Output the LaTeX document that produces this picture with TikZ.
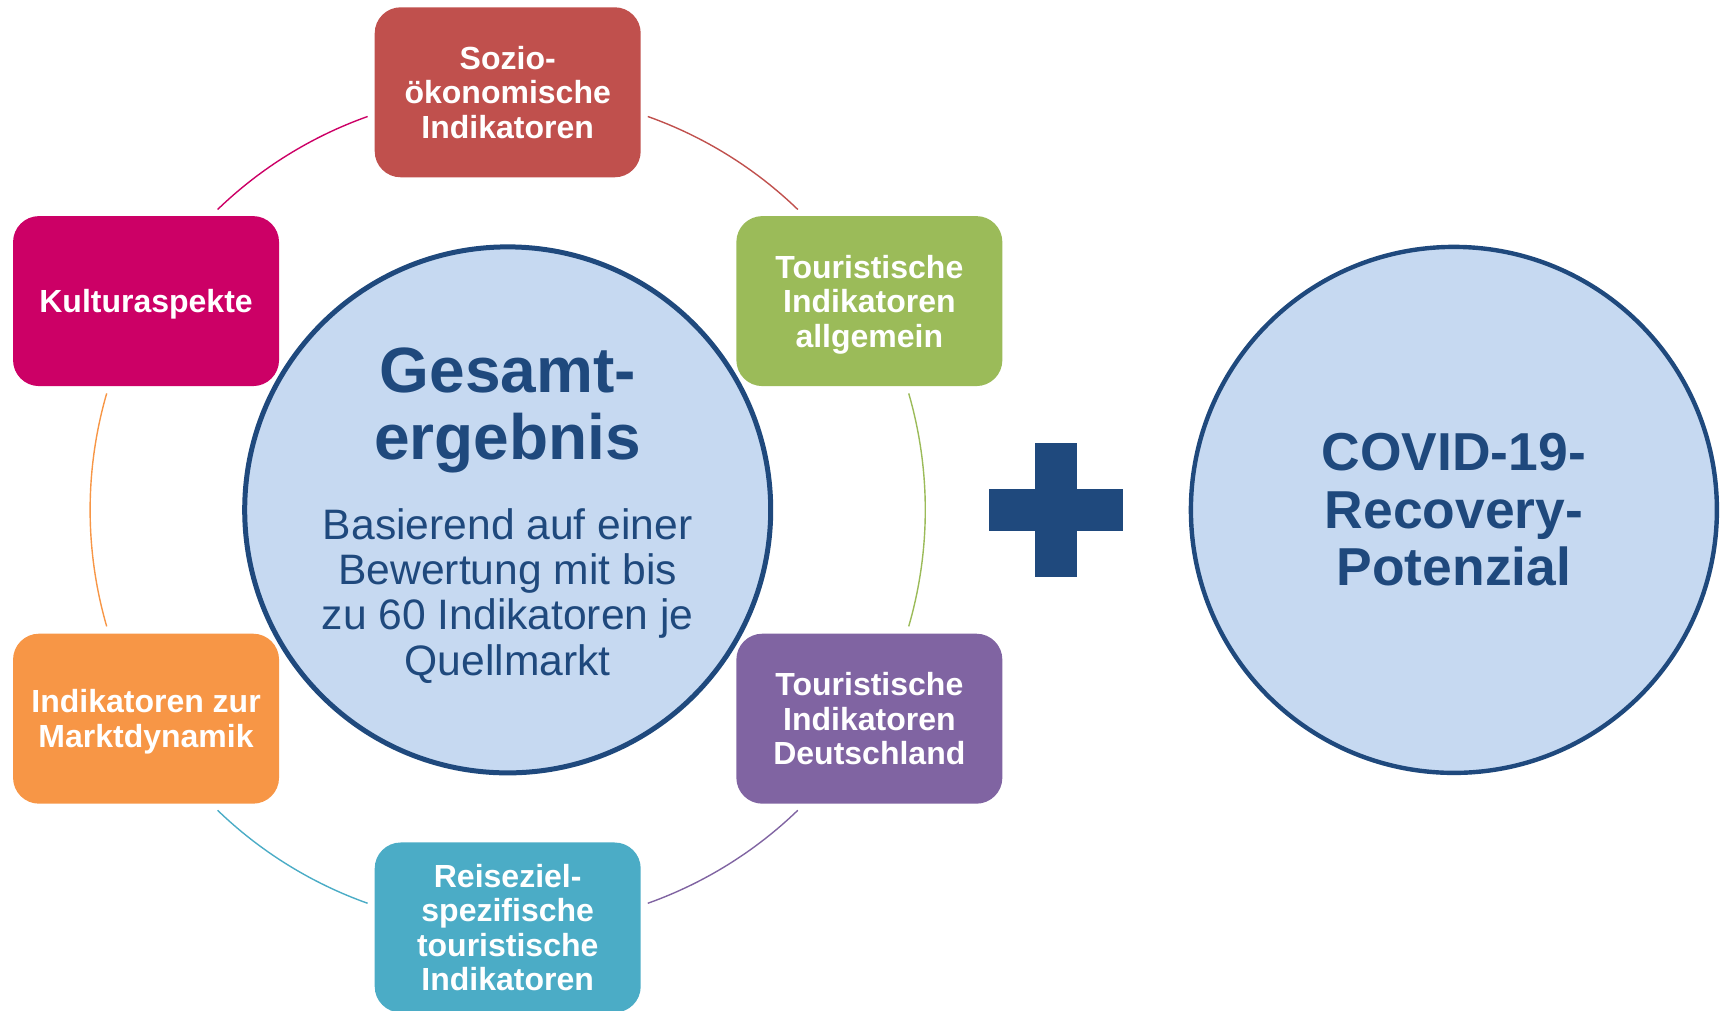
\documentclass[tikz,border=0pt]{standalone}
\usepackage{fontspec}
\setmainfont{Liberation Sans}
\usetikzlibrary{calc}
\definecolor{cSoz}{HTML}{C0504D}
\definecolor{cKul}{HTML}{CC0066}
\definecolor{cTA}{HTML}{9BBB59}
\definecolor{cTD}{HTML}{8064A2}
\definecolor{cRei}{HTML}{4BACC6}
\definecolor{cMar}{HTML}{F79646}
\definecolor{cFill}{HTML}{C6D9F1}
\definecolor{cNavy}{HTML}{1F497D}
\begin{document}
\begin{tikzpicture}[x=0.5pt,y=0.5pt,
  box/.style={rectangle, rounded corners=13pt, minimum width=133pt, minimum height=85pt, inner sep=2pt, text depth=0pt, text=white, align=center, font=\fontsize{16}{17.3}\selectfont\bfseries},
  bigcirc/.style={circle, draw=cNavy, line width=2.2pt, fill=cFill, minimum size=263pt, inner sep=0pt},
  ringarc/.style={line width=0.7pt},
  navytext/.style={text=cNavy, align=center}]
\useasboundingbox (0,0) rectangle (1723,1011);
\coordinate (ring) at (507.7,501.1);
% ring arcs between boxes
\draw[ringarc, draw=cSoz] ([shift={(70.4:417.6)}]ring) arc[start angle=70.4, end angle=46, radius=208.8pt];
\draw[ringarc, draw=cTA] ([shift={(16.2:417.6)}]ring) arc[start angle=16.2, end angle=-16.2, radius=208.8pt];
\draw[ringarc, draw=cTD] ([shift={(-46:417.6)}]ring) arc[start angle=-46, end angle=-70.4, radius=208.8pt];
\draw[ringarc, draw=cRei] ([shift={(-109.6:417.6)}]ring) arc[start angle=-109.6, end angle=-134, radius=208.8pt];
\draw[ringarc, draw=cMar] ([shift={(196.2:417.6)}]ring) arc[start angle=196.2, end angle=163.8, radius=208.8pt];
\draw[ringarc, draw=cKul] ([shift={(134:417.6)}]ring) arc[start angle=134, end angle=109.6, radius=208.8pt];
% central circle
\node[bigcirc, line width=2.5pt] (ges) at (ring) {};
\node[navytext, font=\fontsize{32}{33.5}\selectfont\bfseries] (title) at (507.7,600.7) {Gesamt-\\ergebnis};
\node[navytext, font=\fontsize{21.3}{22.7}\selectfont] (sub) at (507.7,415.2) {Basierend auf einer\\Bewertung mit bis\\zu 60 Indikatoren je\\Quellmarkt};
% boxes
\node[box, fill=cSoz] (soz) at ([shift={(90:417.6)}]ring) {Sozio-\\ökonomische\\Indikatoren};
\node[box, fill=cTA] (ta) at ([shift={(30:417.6)}]ring) {Touristische\\Indikatoren\\allgemein};
\node[box, fill=cTD] (td) at ([shift={(-30:417.6)}]ring) {Touristische\\Indikatoren\\Deutschland};
\node[box, fill=cRei] (rei) at ([shift={(-90:417.6)}]ring) {Reiseziel-\\spezifische\\touristische\\Indikatoren};
\node[box, fill=cMar] (mar) at ([shift={(210:417.6)}]ring) {Indikatoren zur\\Marktdynamik};
\node[box, fill=cKul] (kul) at ([shift={(150:417.6)}]ring) {Kulturaspekte};
% plus sign
\coordinate (plus) at (1056,501.1);
\fill[cNavy] ($(plus)+(-67,-21.15)$) rectangle ($(plus)+(67,21.15)$);
\fill[cNavy] ($(plus)+(-21.15,-67)$) rectangle ($(plus)+(21.15,67)$);
% right circle
\node[bigcirc, navytext, font=\fontsize{26.7}{28.8}\selectfont\bfseries] (covid) at (1453.9,501.1) {COVID-19-\\Recovery-\\Potenzial};
\end{tikzpicture}
\end{document}
